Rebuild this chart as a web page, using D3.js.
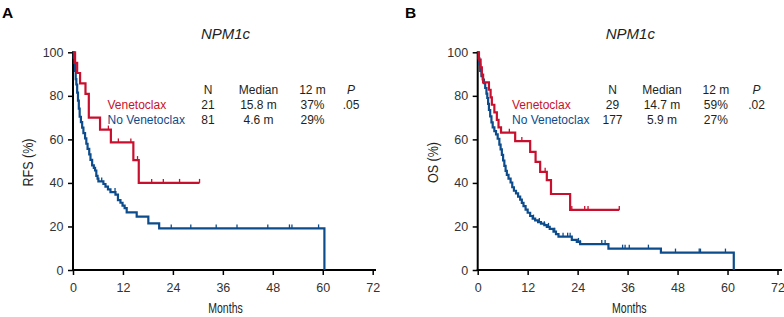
<!DOCTYPE html>
<html><head><meta charset="utf-8">
<script src="https://cdn.jsdelivr.net/npm/d3@7"></script>
<style>
html,body{margin:0;padding:0;background:#fff;}
svg{display:block;font-family:"Liberation Sans",Arial,Helvetica,sans-serif;}
</style></head>
<body><svg id="chart" width="784" height="317"></svg>
<script>
// ---------- data ----------
const xTicks = [0, 12, 24, 36, 48, 60, 72];
const yTicks = [0, 20, 40, 60, 80, 100];
const panelLetters = ["A", "B"];
const panelTitles = ["NPM1c", "NPM1c"];
const yLabels = ["RFS (%)", "OS (%)"];
const xLabel = "Months";
const seriesNames = ["Venetoclax", "No Venetoclax"];
const tableHeader = ["N", "Median", "12 m", "P"];
const tableA = [["21", "15.8 m", "37%", ".05"], ["81", "4.6 m", "29%", ""]];
const tableB = [["29", "14.7 m", "59%", ".02"], ["177", "5.9 m", "27%", ""]];

// [month, survival %]
const redA = [[0,100],[0.5,95.2],[1.0,90.5],[1.7,85.7],[3.0,80.9],[3.8,70],[6.5,64.5],[9.1,58.6],[14.5,50.5],[15.8,40],[30.4,40]];
const redACens = [8.5, 10.9, 13.9, 15.5, 18.9, 21.7, 25.6, 30.4];
const blueA = [[0,100],[0.2,97.5],[0.35,95],[0.5,91.4],[0.65,87.7],[0.8,85.2],[1.0,81.5],[1.2,77.8],[1.4,74.1],[1.6,70.4],[1.9,67.9],[2.2,65.4],[2.5,62.9],[2.9,60.5],[3.2,58],[3.5,55.6],[3.9,53.1],[4.2,50.6],[4.6,48.1],[5.0,46.9],[5.3,45.7],[5.6,43.2],[5.9,42],[6.1,40.7],[7.3,39.5],[7.8,38.3],[8.4,37],[9.0,35.8],[10.2,34.6],[10.8,32.1],[11.4,30.9],[11.9,29.6],[12.4,28.4],[12.9,26.5],[15.3,24.5],[18.1,21.4],[20.7,19.1],[60.4,0]];
const blueACens = [6.9, 10.1, 23.6, 28.3, 34.4, 39.4, 46.8, 52.0, 52.6, 59.0];

const redB = [[0,100],[0.3,96.6],[0.7,93.1],[1.0,89.7],[1.3,86.2],[2.7,82.8],[3.1,79.3],[3.4,75.9],[4.0,72.4],[4.6,69],[5.0,65.5],[5.6,63.1],[9.0,59.2],[12.6,54.3],[13.9,49.7],[15.0,45.1],[16.6,41.3],[17.6,34.9],[22.2,27.6],[34.0,27.6]];
const redBCens = [7.6, 10.6, 16.2, 22.6, 25.7, 26.5, 34.0];
const blueB = [[0,100],[0.2,97.2],[0.4,94.4],[0.6,91.5],[0.9,89],[1.2,87.5],[1.5,85.8],[1.8,83.6],[2.1,81],[2.3,79],[2.5,76.3],[2.7,73.5],[3.0,70.6],[3.3,67.8],[3.6,65.5],[4.0,63.8],[4.4,62.3],[4.8,60.3],[5.2,57.6],[5.5,55.4],[5.8,52.9],[6.1,50.3],[6.4,47.8],[6.7,45.5],[7.0,43.7],[7.4,42],[7.9,40.2],[8.3,38],[8.7,36.4],[9.2,35.2],[9.7,33.7],[10.2,32.3],[10.6,30.8],[11.0,29.3],[11.5,27.7],[12.0,26.3],[12.6,24.8],[13.2,23.6],[13.8,22.8],[14.5,22.0],[15.2,21.3],[16.0,20.6],[16.6,19.8],[17.3,18.9],[18.2,17.6],[18.8,16.5],[19.4,15.3],[22.6,13.8],[23.8,12.9],[24.6,11.9],[31.4,9.8],[44.0,8.0],[61.5,0]];
const blueBCens = [13.4, 14.8, 16.0, 17.0, 18.5, 20.5, 21.6, 22.2, 24.2, 24.6, 29.8, 30.6, 34.8, 35.4, 36.4, 41.0, 47.5, 53.2, 53.5, 59.5];

// ---------- drawing ----------
const RED = "#c8102e", BLUE = "#0d4c8c", TXT = "#231f20";
const svg = d3.select("#chart");

const panels = [
  {x0: 73, x1: 372.7, letterX: 2, titleX: 225.5, yLabX: 33, yLabLen: 48, xLabX: 225.5, axisEnd: 376,
   legX: 107.5, cols: [208, 258.5, 312.5, 351], table: tableA, red: redA, redC: redACens, blue: blueA, blueC: blueACens},
  {x0: 477.7, x1: 777.5, letterX: 405, titleX: 630.3, yLabX: 437.5, yLabLen: 41, xLabX: 629.3, axisEnd: 782,
   legX: 512, cols: [612.5, 662, 715.8, 756.5], table: tableB, red: redB, redC: redBCens, blue: blueB, blueC: blueBCens}
];

const y = d3.scaleLinear().domain([0, 100]).range([270, 52.3]);

function stepVal(data, t) {
  let v = data[0][1];
  for (const d of data) { if (d[0] <= t) v = d[1]; }
  return v;
}

panels.forEach((p, i) => {
  const x = d3.scaleLinear().domain([0, 72]).range([p.x0, p.x1]);
  const g = svg.append("g");

  g.append("text").attr("x", p.letterX).attr("y", 17.5)
    .attr("font-size", 15.5).attr("font-weight", "bold").attr("fill", "#000").text(panelLetters[i]);
  g.append("text").attr("x", p.titleX).attr("y", 38.5).attr("text-anchor", "middle")
    .attr("font-size", 15).attr("font-style", "italic").attr("fill", TXT).text(panelTitles[i]);

  const xAxis = d3.axisBottom(x).tickValues(xTicks).tickSize(5).tickPadding(8).tickFormat(d3.format("d"));
  const gx = g.append("g").attr("transform", "translate(0,270)").call(xAxis);
  gx.select(".domain").remove();
  gx.append("line").attr("x1", p.x0 - 1).attr("x2", p.axisEnd).attr("y1", 0).attr("y2", 0)
    .attr("stroke", "#000").attr("stroke-width", 2);
  gx.selectAll(".tick line").attr("stroke", "#000").attr("stroke-width", 1.5);
  gx.selectAll(".tick text").attr("font-size", 12.5).attr("fill", "#333").attr("font-family", null);

  const yAxis = d3.axisLeft(y).tickValues(yTicks).tickSize(5).tickPadding(4.5);
  const gy = g.append("g").attr("transform", `translate(${p.x0},0)`).call(yAxis);
  gy.select(".domain").remove();
  gy.append("line").attr("x1", 0).attr("x2", 0).attr("y1", y(100) - 1).attr("y2", 271)
    .attr("stroke", "#000").attr("stroke-width", 2);
  gy.selectAll(".tick line").attr("stroke", "#000").attr("stroke-width", 1.5);
  gy.selectAll(".tick text").attr("font-size", 12.5).attr("fill", "#333").attr("font-family", null);

  g.append("text").attr("x", p.xLabX).attr("y", 312.5).attr("text-anchor", "middle")
    .attr("font-size", 15.5).attr("fill", TXT)
    .attr("textLength", 34.5).attr("lengthAdjust", "spacingAndGlyphs").text(xLabel);
  g.append("text").attr("transform", `translate(${p.yLabX},162.5) rotate(-90)`).attr("text-anchor", "middle")
    .attr("font-size", 15.5).attr("fill", TXT)
    .attr("textLength", p.yLabLen).attr("lengthAdjust", "spacingAndGlyphs").text(yLabels[i]);

  const line = d3.line().x(d => x(d[0])).y(d => y(d[1])).curve(d3.curveStepAfter);
  [[p.blue, p.blueC, BLUE], [p.red, p.redC, RED]].forEach(([data, cens, col]) => {
    g.append("path").attr("d", line(data)).attr("fill", "none")
      .attr("stroke", col).attr("stroke-width", 2.2).attr("stroke-linejoin", "miter");
    g.selectAll(null).data(cens).enter().append("line")
      .attr("x1", d => x(d)).attr("x2", d => x(d))
      .attr("y1", d => y(stepVal(data, d)) - 4).attr("y2", d => y(stepVal(data, d)))
      .attr("stroke", col).attr("stroke-width", 1.3);
  });

  const rowsY = [94, 109, 123.5];
  tableHeader.forEach((h, j) => {
    g.append("text").attr("x", p.cols[j]).attr("y", rowsY[0]).attr("text-anchor", "middle")
      .attr("font-size", 12).attr("fill", TXT).attr("font-style", j === 3 ? "italic" : null).text(h);
  });
  [RED, BLUE].forEach((col, r) => {
    g.append("text").attr("x", p.legX).attr("y", rowsY[r + 1]).attr("font-size", 12)
      .attr("fill", col).text(seriesNames[r]);
    p.table[r].forEach((v, j) => {
      if (v) g.append("text").attr("x", p.cols[j]).attr("y", rowsY[r + 1]).attr("text-anchor", "middle")
        .attr("font-size", 12).attr("fill", TXT).text(v);
    });
  });
});
</script></body></html>
